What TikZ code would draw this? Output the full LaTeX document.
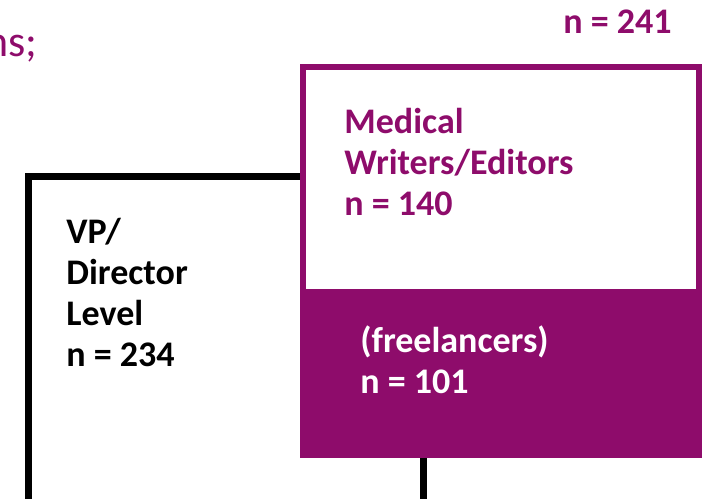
\documentclass[tikz,border=0pt]{standalone}
\usepackage{fontspec}
\setmainfont{Carlito}
\usepackage{xcolor}
\usetikzlibrary{positioning}
\definecolor{plum}{HTML}{8E0C6B}

\begin{document}
\begin{tikzpicture}[
  x=0.5pt,y=-0.5pt,
  boxtext/.style={inner sep=0pt,anchor=base west,align=left,
                  font=\bfseries\fontsize{18}{20.5}\selectfont},
  vpframe/.style={line width=3.5pt,draw=black,fill=white},
  writerpanel/.style={line width=3pt,draw=plum,fill=white},
  freeband/.style={fill=plum}
]
  \useasboundingbox (0,0) rectangle (709,499);
  \clip (0,0) rectangle (709,499);
  % the two groups, writers drawn over the VP box
  \draw[vpframe] (28,176) rectangle (423,502);
  \draw[writerpanel] (303,67) rectangle (698.5,455);
  \fill[freeband] (300,289) rectangle (702,457);
  % texts (base anchor sits on the last line)
  \node[boxtext,anchor=base east,font=\fontsize{22}{26}\selectfont,text=plum] (prevline) at (38,56) {ns;};
  \node[boxtext,anchor=base east,text=plum] (total) at (672,33) {n = 241};
  \node[boxtext,text=plum] (writers) at (344,215) {Medical\\Writers/Editors\\n = 140};
  \node[boxtext] (vpdirector) at (66,366) {VP/\\Director\\Level\\n = 234};
  \node[boxtext,text=white] (freelancers) at (360,393) {(freelancers)\\n = 101};
\end{tikzpicture}
\end{document}
